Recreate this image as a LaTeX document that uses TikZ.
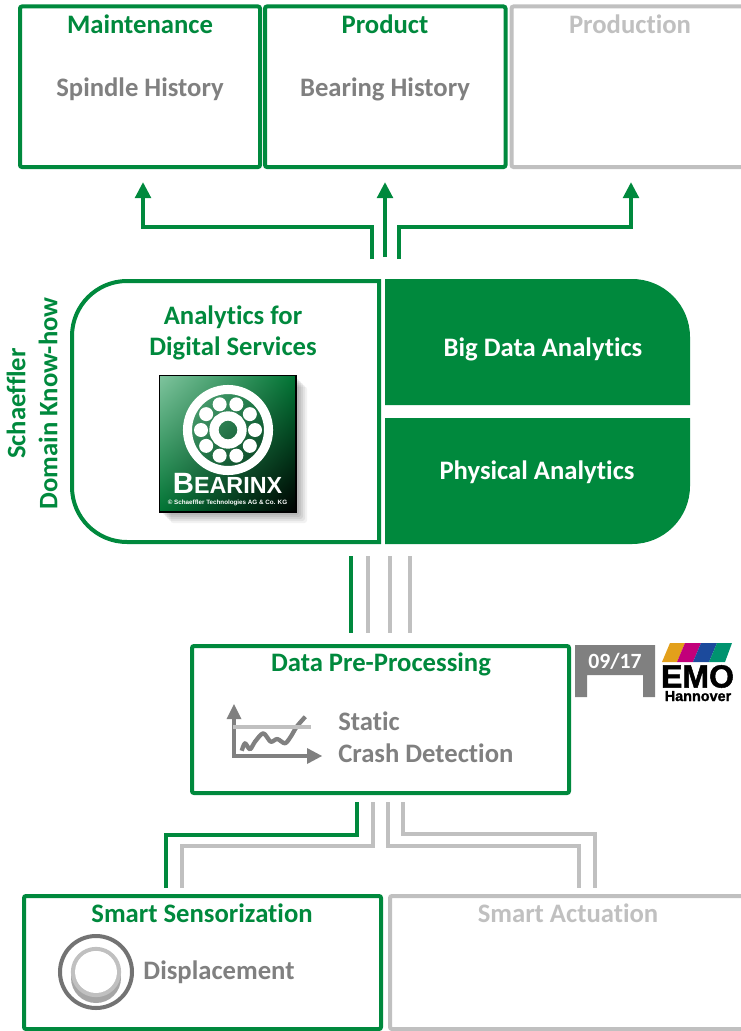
\documentclass[tikz,border=0pt]{standalone}
\usepackage{fontspec}
\setmainfont{Carlito}[BoldFont={Carlito Bold},Ligatures=CommonOff]
\newfontfamily\logobold{Liberation Sans Bold}
\newfontfamily\emobold[FakeBold=1.6]{Liberation Sans Bold}
\definecolor{sgreen}{HTML}{00893D}
\definecolor{sgray}{HTML}{808080}
\definecolor{lgray}{HTML}{C0C0C0}
\usetikzlibrary{shadings,arrows.meta,calc}
\tikzset{
  px/.style={x=0.75pt,y=-0.75pt},
  gbox/.style={draw=sgreen,line width=3pt,fill=white,rounded corners=1.5pt},
  lbox/.style={draw=lgray,line width=3pt,fill=white,rounded corners=1.5pt},
  gline/.style={draw=sgreen,line width=3pt},
  lline/.style={draw=lgray,line width=3pt},
  garrow/.style={gline,-{Triangle[length=12pt,width=11.5pt]}},
  titleg/.style={font=\bfseries\fontsize{20}{24}\selectfont,text=sgreen,inner sep=0pt,align=center},
  titlel/.style={font=\bfseries\fontsize{20}{24}\selectfont,text=lgray,inner sep=0pt,align=center},
  labelg/.style={font=\bfseries\fontsize{20}{24}\selectfont,text=sgray,inner sep=0pt,align=left},
  labelw/.style={font=\bfseries\fontsize{20}{24}\selectfont,text=white,inner sep=0pt,align=center},
  pt/.style={inner sep=0pt,outer sep=0pt,minimum size=0pt},
}
\begin{document}
\begin{tikzpicture}[px]
\useasboundingbox (0,0) rectangle (741,1031);
% boxes
\begin{scope}
\clip (0,0) rectangle (741,1031);
\draw[gbox] (20,6.5) rectangle (260,167);
\draw[gbox] (265,6.5) rectangle (505.5,167);
\draw[lbox] (511.5,6.5) rectangle (750,167);
\draw[gbox] (24,896) rectangle (381,1029);
\draw[lbox] (390,896) rectangle (750,1029);
\end{scope}
\node[titleg,anchor=base] (maint) at (140,33.5) {Maintenance};
\node[titleg,anchor=base] (prod) at (385,33.5) {Product};
\node[titlel,anchor=base] (produ) at (630,33.5) {Production};
\node[labelg,anchor=base] (spindle) at (140,97) {Spindle History};
\node[labelg,anchor=base] (bearing) at (385,97) {Bearing History};
% top connectors
\coordinate (t1) at (372,259);
\coordinate (t2) at (385,257);
\coordinate (t3) at (399,259);
\coordinate (a1) at (143,182);
\coordinate (a2) at (385,182);
\coordinate (a3) at (631,182);
\draw[garrow] (t1) |- (143,227) -- (a1);
\draw[garrow] (t2) -- (a2);
\draw[garrow] (t3) |- (631,227) -- (a3);
% analytics
\draw[gline,fill=white] (379,281) -- (379,542) -- (127,542) arc[start angle=90,end angle=180,radius=55] -- (72,336) arc[start angle=180,end angle=270,radius=55] -- cycle;
\fill[sgreen] (385,279) -- (632,279) arc[start angle=-90,end angle=0,radius=58] -- (690,405) -- (385,405) -- cycle;
\fill[sgreen] (385,418) -- (690,418) -- (690,486) arc[start angle=0,end angle=90,radius=58] -- (385,544) -- cycle;
\node[titleg,anchor=base] (afds1) at (233,324) {Analytics for};
\node[titleg,anchor=base] (afds2) at (233,355) {Digital Services};
\node[labelw,anchor=base] (bda) at (543,356) {Big Data Analytics};
\node[labelw,anchor=base] (pa) at (537,479) {Physical Analytics};
\node[titleg,rotate=90] (sdk) at (32,403.5) {Schaeffler\\Domain Know-how};
% Bearinx logo
\foreach \d/\o in {3/.07,5/.07,7/.07,9/.06,11/.05}{\fill[black,opacity=\o,rounded corners=2pt] (159.5+\d,375.5+\d) rectangle (296+\d,512+\d);}
\shade[upper left=sgreen!50!white,upper right=sgreen!85!black,lower left=sgreen!85!black,lower right=black] (159.5,375.5) rectangle (296,512);
\draw[black,line width=1.2pt] (159.5,375.5) rectangle (296,512);
\coordinate (bc) at (228,430);
\draw[white,line width=6.8pt] (bc) circle[radius=40.5];
\draw[white,line width=7pt] (bc) circle[radius=14];
\foreach \a in {0,36,...,324}{\fill[white] (bc) ++(\a:27) circle[radius=7];}
\node[pt,text=white,anchor=base] (bearinxt) at (227.5,493) {\logobold\fontsize{22}{22}\selectfont B\fontsize{17.5}{18}\selectfont EARINX};
\node[pt,text=white,anchor=base] (copyr) at (227.5,504) {\logobold\fontsize{4.7}{5}\selectfont © Schaeffler Technologies AG \& Co. KG};
% mid lines
\coordinate (m1a) at (351,556); \coordinate (m1b) at (351,633);
\coordinate (m2a) at (368,556); \coordinate (m2b) at (368,633);
\coordinate (m3a) at (390,556); \coordinate (m3b) at (390,633);
\coordinate (m4a) at (410,556); \coordinate (m4b) at (410,633);
\draw[lline] (m2a)--(m2b);
\draw[lline] (m3a)--(m3b);
\draw[lline] (m4a)--(m4b);
\draw[gline] (m1a)--(m1b);
% pre-processing
\draw[gbox] (192,646) rectangle (569,793);
\node[titleg,anchor=base] (dpp) at (381,671) {Data Pre-Processing};
\node[labelg,anchor=base west] (st) at (338,730) {Static};
\node[labelg,anchor=base west] (cd) at (338,762) {Crash Detection};
% chart
\draw[sgray,line width=3.2pt] (234,718) -- (234,756) -- (308,756);
\fill[sgray] (226.5,719) -- (234,704) -- (241.5,719) -- cycle;
\fill[sgray] (322,756) -- (307,748) -- (307,764) -- cycle;
\draw[sgray,line width=3.2pt,line join=round] plot[smooth,tension=.5] coordinates {(241.7,750.7) (245,743.3) (250,749.3) (255,741.7) (263.3,733.3) (270.7,741.7) (277.3,739) (285,743.3) (290.7,736.7) (296.7,726.7) (305.3,716.7)};
\draw[lgray,line width=3pt] (233,727) -- (311,727);
% 09/17
\fill[sgray] (575,645) -- (655,645) -- (655,697) -- (643,697) -- (643,675) -- (587,675) -- (587,697) -- (575,697) -- cycle;
\node[pt,text=white,font=\bfseries\fontsize{16.3}{17}\selectfont] (date) at (615,661) {09/17};
% EMO
\definecolor{emoa}{HTML}{E3A01B}
\definecolor{emob}{HTML}{C2007A}
\definecolor{emoc}{HTML}{1C4A9C}
\definecolor{emod}{HTML}{00936F}
\fill[emoa] (662,662) -- (670,643) -- (685,643) -- (677,662) -- cycle;
\fill[emob] (677,662) -- (685,643) -- (701,643) -- (693,662) -- cycle;
\fill[emoc] (693,662) -- (701,643) -- (717,643) -- (709,662) -- cycle;
\fill[emod] (709,662) -- (717,643) -- (732,643) -- (725,662) -- cycle;
\node[pt,text=black,anchor=base,font=\emobold\fontsize{24}{24}\selectfont] (emo) at (697.5,687.5) {EMO};
\node[pt,text=black,anchor=base,font=\emobold\fontsize{10.8}{11}\selectfont] (hann) at (698,701) {Hannover};
% lower connectors
\coordinate (b1) at (357,802); \coordinate (b1e) at (166,888);
\coordinate (b2) at (373,802); \coordinate (b2e) at (182,888);
\coordinate (b3) at (388,802); \coordinate (b3e) at (579,888);
\coordinate (b4) at (403,802); \coordinate (b4e) at (595,888);
\draw[lline] (b2) |- (182,846) -- (b2e);
\draw[lline] (b3) |- (579,846) -- (b3e);
\draw[lline] (b4) |- (595,834) -- (b4e);
\draw[gline] (b1) |- (166,835) -- (b1e);
% bottom labels
\node[titleg,anchor=base] (ss) at (202,922) {Smart Sensorization};
\node[titlel,anchor=base] (sa) at (568,922) {Smart Actuation};
\node[labelg,anchor=base] (disp) at (219,979) {Displacement};
% sensor icon
\coordinate (sc) at (96,972);
\draw[black!55,line width=3pt] (sc) circle[radius=36];
\fill[black!35] (96,978) circle[radius=25];
\draw[lgray,line width=3.2pt] (96,972) circle[radius=23];
\fill[white] (96,972) circle[radius=21];
\end{tikzpicture}
\end{document}
